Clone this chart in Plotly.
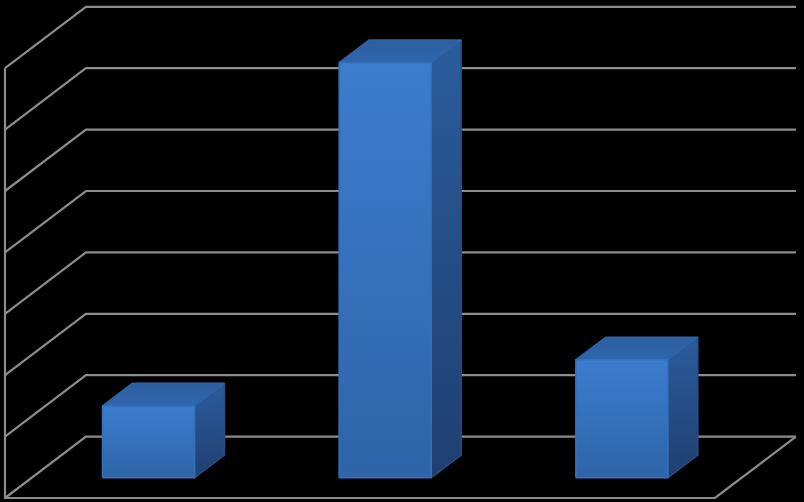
import plotly.graph_objects as go

# bars (value units = one gridline step)
categories = [0, 1, 2]
bar_values = [1.17, 6.76, 1.92]
grid_values = [0, 1, 2, 3, 4, 5, 6, 7]

# oblique projection of the chart box
N_CATS = 3
DEPTH_X = 0.342   # back wall shift, in category units
DEPTH_Y = 1.0     # back wall shift, in value units
BAR_GAP = 0.299
BAR_WIDTH = 0.389
BAR_FRONT = 0.33  # bar front/back position as fraction of floor depth
BAR_BACK = 0.70

GRID_COLOR = '#8c8c8c'


def project(cat, value, depth):
    return cat + DEPTH_X * depth, value + DEPTH_Y * depth


def add_face(fig, corners, bottom_color, top_color, edge_color):
    xs = [c[0] for c in corners] + [corners[0][0]]
    ys = [c[1] for c in corners] + [corners[0][1]]
    fig.add_trace(go.Scatter(
        x=xs, y=ys, mode='lines', fill='toself',
        fillgradient=dict(type='vertical', colorscale=[[0, bottom_color], [1, top_color]]),
        line=dict(color=edge_color, width=1.5),
        hoverinfo='skip'
    ))


def add_grid_line(fig, points, width=2.2):
    fig.add_trace(go.Scatter(
        x=[p[0] for p in points], y=[p[1] for p in points], mode='lines',
        line=dict(color=GRID_COLOR, width=width), hoverinfo='skip'
    ))


fig = go.Figure()

# walls and floor
for v in grid_values:
    add_grid_line(fig, [project(0, v, 0), project(0, v, 1), project(N_CATS, v, 1)])
add_grid_line(fig, [project(0, grid_values[-1], 0), project(0, 0, 0), project(N_CATS, 0, 0), project(N_CATS, 0, 1)])

# bars
for cat, val in zip(categories, bar_values):
    x0 = cat + BAR_GAP
    x1 = x0 + BAR_WIDTH

    # right side
    add_face(fig, [project(x1, 0, BAR_FRONT), project(x1, 0, BAR_BACK),
                   project(x1, val, BAR_BACK), project(x1, val, BAR_FRONT)],
             '#1f3f70', '#2b5c9c', '#264f88')
    # top
    add_face(fig, [project(x0, val, BAR_FRONT), project(x1, val, BAR_FRONT),
                   project(x1, val, BAR_BACK), project(x0, val, BAR_BACK)],
             '#2f66ad', '#2c5f9f', '#2e63a8')
    # front
    add_face(fig, [project(x0, 0, BAR_FRONT), project(x1, 0, BAR_FRONT),
                   project(x1, val, BAR_FRONT), project(x0, val, BAR_FRONT)],
             '#2e64a8', '#3c7dce', '#3570ba')

fig.update_layout(
    width=804,
    height=502,
    showlegend=False,
    paper_bgcolor='black',
    plot_bgcolor='black',
    margin=dict(l=0, r=0, t=0, b=0)
)
fig.update_xaxes(visible=False, range=[-5 / 236.67, 799 / 236.67])
fig.update_yaxes(visible=False, range=[-4 / 61.4, 498 / 61.4])

fig.write_html("out.html", config=dict(displayModeBar=False),
               post_script="document.body.style.margin = '0';")
